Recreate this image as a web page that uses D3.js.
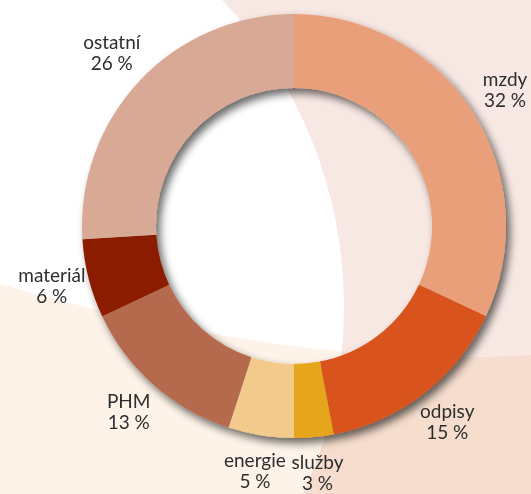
<!DOCTYPE html>
<html lang="cs">
<head>
  <meta charset="UTF-8" />
  <title>Struktura nákladů</title>
  <script src="https://d3js.org/d3.v7.min.js"></script>
  <style>
    body {
      margin: 0;
      padding: 0;
      background: #fff;
      overflow: hidden;
      font-family: Lato, "Open Sans", sans-serif;
    }
  </style>
</head>
<body>
  <div id="viz"></div>
  <script>
    const categories = ["mzdy", "odpisy", "služby", "energie", "PHM", "materiál", "ostatní"];
    const shares = [32, 15, 3, 5, 13, 6, 26];
    const colors = ["#e9a07a", "#d9531f", "#e5a61b", "#f2cb8c", "#b56a4e", "#8b1e05", "#d8a994"];

    const width = 531;
    const height = 494;
    const cx = 294;
    const cy = 226;
    const outerR = 212;
    const innerR = 138;
    const labelR = 250;
    const labelDy = 5; // labels sit a bit lower than the ring centre

    const svg = d3.select("#viz")
      .append("svg")
      .attr("width", width)
      .attr("height", height);

    const defs = svg.append("defs");
    const shadow = defs.append("filter")
      .attr("id", "shadow")
      .attr("x", "-20%").attr("y", "-20%")
      .attr("width", "140%").attr("height", "140%");
    shadow.append("feGaussianBlur").attr("in", "SourceAlpha").attr("stdDeviation", 4).attr("result", "blur");
    shadow.append("feOffset").attr("in", "blur").attr("dx", 4).attr("dy", 5).attr("result", "off");
    shadow.append("feComponentTransfer").attr("in", "off").attr("result", "soft")
      .append("feFuncA").attr("type", "linear").attr("slope", 0.6);
    const merge = shadow.append("feMerge");
    merge.append("feMergeNode").attr("in", "soft");
    merge.append("feMergeNode").attr("in", "SourceGraphic");

    // background: pink base, white circle on the left, peach band at the bottom
    svg.append("rect")
      .attr("width", width)
      .attr("height", height)
      .attr("fill", "#f8e8e3");

    svg.append("circle")
      .attr("cx", -104)
      .attr("cy", 307)
      .attr("r", 448)
      .attr("fill", "#ffffff");

    svg.append("path")
      .attr("d", "M0,284 Q300,370 531,355 L531,494 L0,494 Z")
      .attr("fill", "#fdf3e8")
      .style("mix-blend-mode", "multiply");

    // donut
    const pie = d3.pie().sort(null).value(d => d.value);
    const arcs = pie(categories.map((c, i) => ({ name: c, value: shares[i], color: colors[i] })));

    const arc = d3.arc().innerRadius(innerR).outerRadius(outerR);
    const labelArc = d3.arc().innerRadius(labelR).outerRadius(labelR);

    const g = svg.append("g")
      .attr("transform", `translate(${cx},${cy})`);

    g.append("g")
      .attr("filter", "url(#shadow)")
      .selectAll("path")
      .data(arcs)
      .enter()
      .append("path")
      .attr("d", arc)
      .attr("fill", d => d.data.color);

    const labels = g.selectAll(".label")
      .data(arcs)
      .enter()
      .append("text")
      .attr("class", "label")
      .attr("transform", d => {
        const [x, y] = labelArc.centroid(d);
        return `translate(${x},${y + labelDy})`;
      })
      .attr("text-anchor", "middle")
      .attr("fill", "#2e2e2e")
      .style("font-size", "19px");

    labels.append("tspan")
      .attr("x", 0)
      .attr("y", -11)
      .text(d => d.data.name);

    labels.append("tspan")
      .attr("x", 0)
      .attr("y", 10)
      .text(d => d.data.value + "\u202F%");
  </script>
</body>
</html>
